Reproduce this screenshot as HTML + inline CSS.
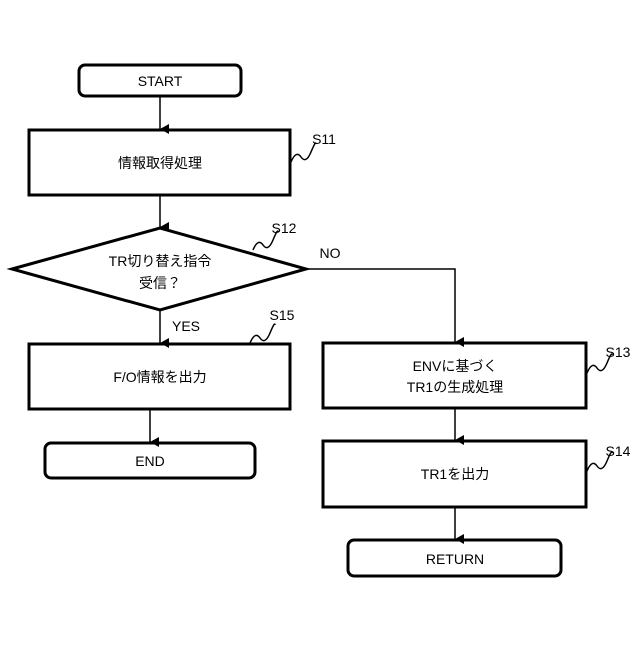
<!DOCTYPE html>
<html><head><meta charset="utf-8"><style>body{margin:0;background:#fff}</style></head><body>
<svg width="640" height="640" viewBox="0 0 640 640" xmlns="http://www.w3.org/2000/svg" font-family="Liberation Sans, Noto Sans CJK JP, sans-serif" font-size="14" fill="none" stroke="#000">
<defs><marker id="a" markerWidth="10" markerHeight="10" refX="5" refY="9" orient="auto" markerUnits="userSpaceOnUse"><path d="M0,0 L10,0 L5,9 z" fill="#000" stroke="none" transform="rotate(-90 5 5) rotate(90 5 5)"/></marker></defs>
<g stroke-width="3">
<rect x="79" y="65" width="162" height="31" rx="6"/>
<rect x="29" y="130" width="261" height="65"/>
<polygon points="12,269 160,228 306,269 160,310"/>
<rect x="29" y="344" width="261" height="65"/>
<rect x="45" y="443" width="210" height="35" rx="6"/>
<rect x="323" y="343" width="263" height="65"/>
<rect x="323" y="441" width="263" height="66"/>
<rect x="348" y="540" width="213" height="36" rx="6"/>
</g>
<g stroke-width="1.5">
<line x1="160" y1="96" x2="160" y2="129" marker-end="url(#a)"/>
<line x1="160" y1="195" x2="160" y2="227" marker-end="url(#a)"/>
<line x1="160" y1="310" x2="160" y2="343" marker-end="url(#a)"/>
<line x1="150" y1="409" x2="150" y2="442" marker-end="url(#a)"/>
<polyline points="306,269 455,269 455,342" marker-end="url(#a)"/>
<line x1="455" y1="408" x2="455" y2="440" marker-end="url(#a)"/>
<line x1="455" y1="507" x2="455" y2="539" marker-end="url(#a)"/>
<path d="M291,162 q5,-12 10,-5 t10,-5 t5,-8"/>
<path d="M253,250 q5,-12 10,-5 t10,-5 t5,-8"/>
<path d="M250,343 q5,-12 10,-5 t10,-5 t5,-8"/>
<path d="M587,373 q5,-12 10,-5 t10,-5 t5,-8"/>
<path d="M587,471 q5,-12 10,-5 t10,-5 t5,-8"/>
</g>
<g fill="#000" stroke="none" text-anchor="middle">
<text x="160" y="86">START</text>
<text x="160" y="168">情報取得処理</text>
<text x="160" y="266">TR切り替え指令</text>
<text x="160" y="288">受信？</text>
<text x="160" y="382">F/O情報を出力</text>
<text x="150" y="466">END</text>
<text x="455" y="371">ENVに基づく</text>
<text x="455" y="392">TR1の生成処理</text>
<text x="455" y="479">TR1を出力</text>
<text x="455" y="564">RETURN</text>
<text x="330" y="258">NO</text>
<text x="186" y="331">YES</text>
<text x="324" y="144">S11</text>
<text x="284" y="233">S12</text>
<text x="282" y="320">S15</text>
<text x="618" y="357">S13</text>
<text x="618" y="456">S14</text>
</g>
</svg>
</body></html>
